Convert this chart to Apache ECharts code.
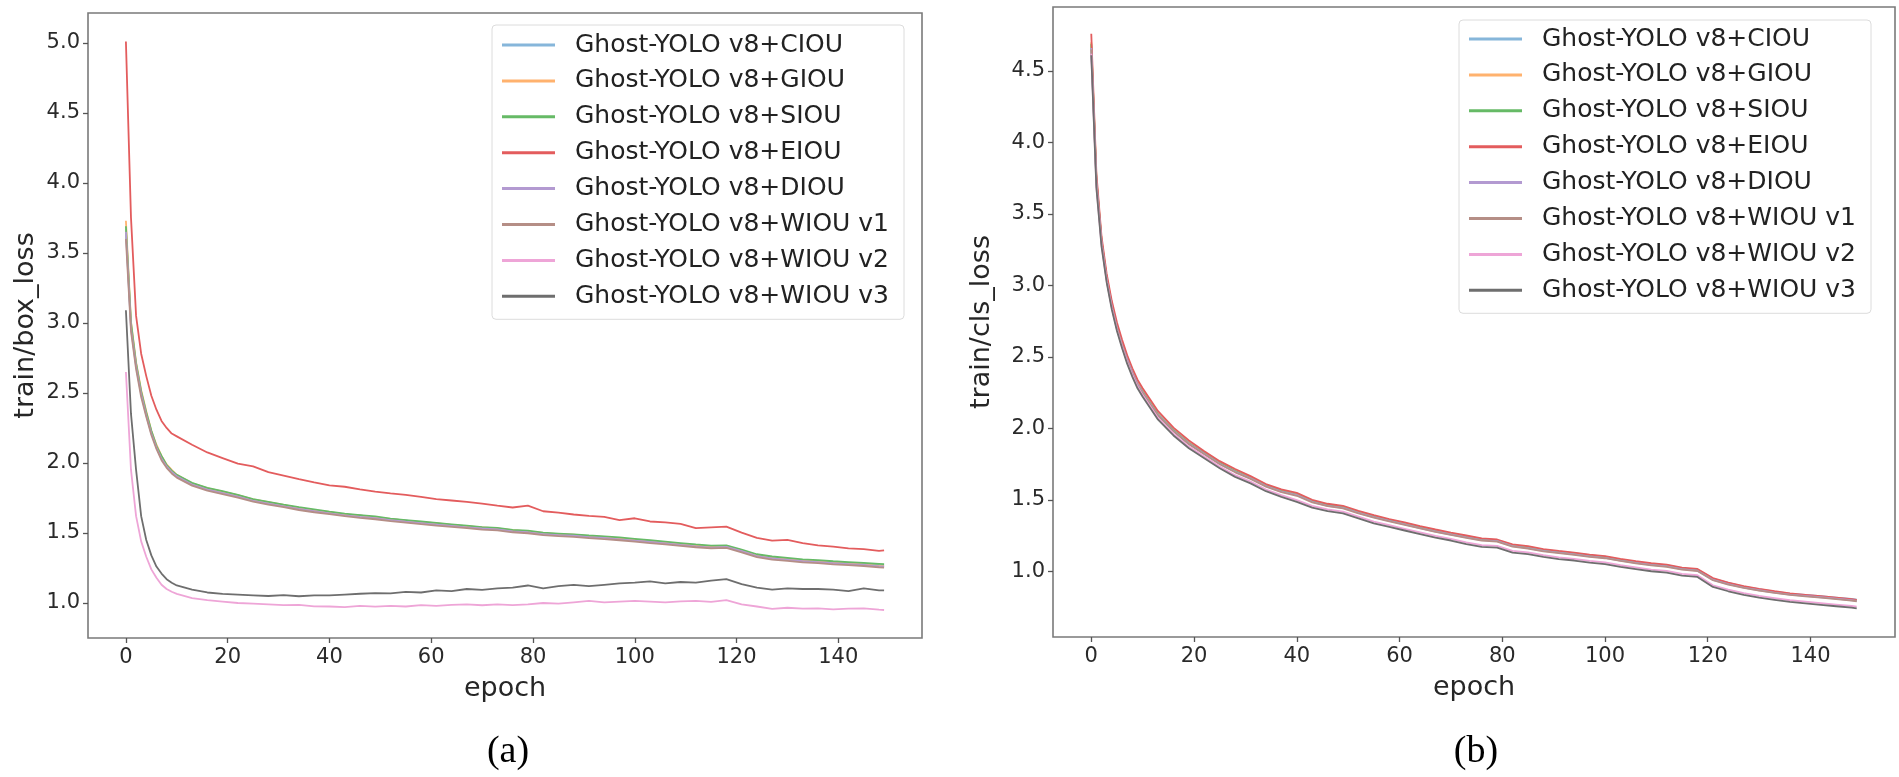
<!DOCTYPE html>
<html>
<head>
<meta charset="utf-8">
<script src="https://cdn.jsdelivr.net/npm/echarts@6/dist/echarts.min.js"></script>
<style>
html,body{margin:0;padding:0;background:#fff;}
#chart{width:1899px;height:777px;}
</style>
</head>
<body>
<div id="chart"></div>
<script>
// ---------- data ----------
const epochs = [0,1,2,3,4,5,6,7,8,9,10,
  13,16,19,22,25,28,31,34,37,40,
  43,46,49,52,55,58,61,64,67,70,
  73,76,79,82,85,88,91,94,97,100,
  103,106,109,112,115,118,121,124,127,130,
  133,136,139,142,145,148,149];

const seriesNames = ['Ghost-YOLO v8+CIOU','Ghost-YOLO v8+GIOU','Ghost-YOLO v8+SIOU','Ghost-YOLO v8+EIOU',
  'Ghost-YOLO v8+DIOU','Ghost-YOLO v8+WIOU v1','Ghost-YOLO v8+WIOU v2','Ghost-YOLO v8+WIOU v3'];

// (a) train/box_loss
const boxCIOU = [3.67,2.98,2.70,2.50,2.35,2.22,2.12,2.04,1.98,1.94,1.91,
  1.85,1.815,1.79,1.765,1.735,1.715,1.695,1.675,1.66,1.645,
  1.63,1.625,1.608,1.598,1.59,1.572,1.568,1.552,1.548,1.536,
  1.53,1.515,1.51,1.495,1.49,1.485,1.475,1.47,1.46,1.45,
  1.44,1.43,1.42,1.41,1.40,1.405,1.375,1.34,1.325,1.315,
  1.305,1.30,1.29,1.285,1.28,1.272,1.27];
const boxGIOU = [3.73,3.01,2.72,2.52,2.37,2.23,2.13,2.05,1.99,1.95,1.915,
  1.855,1.82,1.795,1.77,1.74,1.72,1.70,1.68,1.662,1.65,
  1.632,1.625,1.61,1.60,1.588,1.578,1.57,1.558,1.548,1.54,
  1.532,1.52,1.512,1.50,1.492,1.488,1.478,1.472,1.462,1.452,
  1.442,1.432,1.422,1.41,1.402,1.408,1.372,1.338,1.322,1.312,
  1.302,1.298,1.288,1.282,1.276,1.265,1.262];
const boxSIOU = [3.69,3.00,2.71,2.51,2.36,2.23,2.12,2.05,1.985,1.945,1.915,
  1.858,1.822,1.798,1.772,1.742,1.722,1.702,1.684,1.668,1.652,
  1.638,1.628,1.618,1.602,1.592,1.582,1.572,1.562,1.552,1.542,
  1.536,1.522,1.516,1.502,1.496,1.49,1.482,1.476,1.468,1.458,
  1.448,1.438,1.428,1.418,1.41,1.412,1.382,1.348,1.332,1.322,
  1.312,1.306,1.298,1.292,1.286,1.28,1.278];
const boxEIOU = [5.01,3.75,3.05,2.78,2.62,2.48,2.38,2.30,2.25,2.21,2.19,
  2.13,2.075,2.035,1.995,1.975,1.935,1.91,1.885,1.862,1.84,
  1.83,1.812,1.795,1.782,1.772,1.758,1.742,1.732,1.722,1.71,
  1.695,1.682,1.695,1.655,1.645,1.632,1.622,1.615,1.592,1.605,
  1.582,1.575,1.565,1.535,1.54,1.545,1.502,1.465,1.445,1.45,
  1.428,1.412,1.402,1.39,1.385,1.372,1.375];
const boxDIOU = [3.65,2.96,2.69,2.49,2.34,2.21,2.11,2.03,1.975,1.935,1.905,
  1.845,1.81,1.785,1.76,1.73,1.71,1.69,1.672,1.655,1.64,
  1.626,1.615,1.605,1.592,1.58,1.57,1.56,1.55,1.54,1.532,
  1.525,1.512,1.505,1.492,1.485,1.48,1.47,1.465,1.455,1.445,
  1.436,1.426,1.415,1.405,1.396,1.40,1.37,1.335,1.318,1.308,
  1.298,1.292,1.284,1.278,1.272,1.262,1.26];
const boxWIOU1 = [3.60,2.94,2.67,2.47,2.33,2.20,2.10,2.02,1.965,1.925,1.895,
  1.838,1.802,1.778,1.752,1.724,1.702,1.684,1.664,1.648,1.634,
  1.62,1.608,1.598,1.585,1.574,1.563,1.553,1.544,1.534,1.524,
  1.518,1.505,1.498,1.485,1.478,1.472,1.463,1.456,1.448,1.438,
  1.428,1.418,1.408,1.398,1.39,1.394,1.362,1.328,1.31,1.30,
  1.29,1.284,1.276,1.27,1.264,1.254,1.252];
const boxWIOU2 = [2.65,1.95,1.62,1.44,1.33,1.24,1.18,1.13,1.10,1.08,1.065,
  1.035,1.02,1.01,1.0,0.995,0.99,0.985,0.987,0.976,0.975,
  0.97,0.98,0.974,0.98,0.975,0.985,0.98,0.986,0.99,0.984,
  0.99,0.985,0.99,1.0,0.995,1.005,1.015,1.005,1.01,1.015,
  1.01,1.004,1.012,1.015,1.008,1.02,0.99,0.975,0.958,0.966,
  0.96,0.962,0.955,0.96,0.962,0.952,0.95];
const boxWIOU3 = [3.09,2.35,1.95,1.62,1.45,1.34,1.26,1.21,1.17,1.145,1.125,
  1.095,1.075,1.065,1.06,1.055,1.05,1.056,1.048,1.055,1.054,
  1.06,1.066,1.07,1.068,1.08,1.075,1.09,1.085,1.10,1.094,
  1.105,1.11,1.125,1.105,1.12,1.13,1.12,1.13,1.14,1.145,
  1.155,1.14,1.15,1.145,1.16,1.17,1.135,1.11,1.095,1.105,
  1.10,1.10,1.095,1.085,1.105,1.09,1.09];

// (b) train/cls_loss
const clsCIOU = [4.68,3.74,3.31,3.05,2.87,2.72,2.60,2.49,2.40,2.32,2.26,
  2.10,1.99,1.90,1.83,1.76,1.705,1.658,1.604,1.565,1.54,
  1.494,1.466,1.452,1.416,1.386,1.36,1.336,1.31,1.286,1.265,
  1.245,1.226,1.218,1.183,1.17,1.15,1.138,1.126,1.112,1.102,
  1.082,1.066,1.052,1.042,1.022,1.012,0.948,0.918,0.893,0.874,
  0.858,0.844,0.834,0.826,0.816,0.806,0.802];
const clsGIOU = [4.70,3.75,3.32,3.06,2.87,2.72,2.60,2.49,2.40,2.32,2.26,
  2.098,1.988,1.898,1.826,1.758,1.702,1.655,1.60,1.562,1.536,
  1.49,1.463,1.448,1.413,1.383,1.356,1.332,1.306,1.283,1.262,
  1.242,1.222,1.214,1.18,1.166,1.147,1.134,1.122,1.108,1.098,
  1.079,1.062,1.048,1.038,1.019,1.008,0.944,0.914,0.89,0.871,
  0.855,0.84,0.83,0.821,0.811,0.80,0.797];
const clsSIOU = [4.69,3.74,3.31,3.05,2.86,2.71,2.59,2.48,2.39,2.31,2.255,
  2.096,1.986,1.896,1.826,1.756,1.70,1.652,1.60,1.56,1.535,
  1.488,1.462,1.447,1.41,1.382,1.356,1.33,1.305,1.282,1.26,
  1.24,1.221,1.212,1.178,1.165,1.145,1.133,1.12,1.107,1.097,
  1.078,1.06,1.047,1.036,1.018,1.007,0.943,0.913,0.889,0.87,
  0.854,0.84,0.829,0.82,0.81,0.80,0.795];
const clsEIOU = [4.76,3.78,3.34,3.08,2.89,2.74,2.62,2.51,2.42,2.34,2.28,
  2.12,2.005,1.915,1.84,1.77,1.715,1.665,1.61,1.572,1.548,
  1.50,1.472,1.458,1.422,1.392,1.365,1.342,1.315,1.292,1.27,
  1.25,1.23,1.222,1.188,1.175,1.155,1.142,1.13,1.116,1.106,
  1.086,1.07,1.056,1.046,1.026,1.016,0.952,0.92,0.895,0.876,
  0.86,0.845,0.835,0.825,0.815,0.804,0.80];
const clsDIOU = [4.66,3.72,3.30,3.04,2.85,2.70,2.58,2.48,2.39,2.31,2.25,
  2.092,1.982,1.892,1.822,1.752,1.696,1.65,1.596,1.557,1.532,
  1.486,1.458,1.444,1.408,1.378,1.352,1.328,1.302,1.278,1.257,
  1.237,1.218,1.21,1.175,1.162,1.142,1.13,1.118,1.104,1.094,
  1.075,1.058,1.044,1.034,1.015,1.004,0.94,0.91,0.886,0.867,
  0.851,0.837,0.827,0.818,0.808,0.797,0.792];
const clsWIOU1 = [4.65,3.72,3.30,3.04,2.85,2.70,2.58,2.47,2.38,2.30,2.245,
  2.088,1.978,1.888,1.818,1.748,1.692,1.646,1.592,1.553,1.528,
  1.482,1.455,1.44,1.405,1.375,1.348,1.325,1.30,1.275,1.254,
  1.234,1.215,1.207,1.172,1.159,1.139,1.127,1.115,1.101,1.091,
  1.072,1.055,1.041,1.031,1.012,1.001,0.937,0.907,0.883,0.864,
  0.848,0.834,0.824,0.815,0.805,0.794,0.79];
const clsWIOU2 = [4.62,3.69,3.28,3.03,2.84,2.69,2.57,2.46,2.372,2.292,2.232,
  2.072,1.962,1.872,1.802,1.732,1.672,1.627,1.572,1.532,1.497,
  1.457,1.432,1.417,1.382,1.347,1.322,1.297,1.272,1.247,1.227,
  1.202,1.182,1.177,1.142,1.132,1.112,1.097,1.087,1.072,1.062,
  1.042,1.027,1.012,1.002,0.982,0.972,0.902,0.872,0.847,0.827,
  0.812,0.797,0.787,0.777,0.767,0.757,0.752];
const clsWIOU3 = [4.61,3.68,3.27,3.02,2.83,2.68,2.56,2.45,2.36,2.28,2.22,
  2.06,1.95,1.86,1.79,1.72,1.66,1.615,1.56,1.52,1.485,
  1.445,1.42,1.405,1.37,1.335,1.31,1.285,1.26,1.235,1.215,
  1.19,1.17,1.165,1.13,1.12,1.10,1.085,1.075,1.06,1.05,
  1.03,1.015,1.0,0.99,0.97,0.96,0.89,0.86,0.835,0.815,
  0.80,0.785,0.775,0.765,0.755,0.745,0.74];

const xTicks = [0,20,40,60,80,100,120,140];
const yTicksBox = [1.0,1.5,2.0,2.5,3.0,3.5,4.0,4.5,5.0];
const yTicksCls = [1.0,1.5,2.0,2.5,3.0,3.5,4.0,4.5];

const boxSeries = [boxCIOU,boxGIOU,boxSIOU,boxEIOU,boxDIOU,boxWIOU1,boxWIOU2,boxWIOU3];
const clsSeries = [clsCIOU,clsGIOU,clsSIOU,clsEIOU,clsDIOU,clsWIOU1,clsWIOU2,clsWIOU3];

// ---------- styling ----------
const colors = ['#86b6da','#ffb26e','#66ba66','#e35c5d','#b39ad1','#b58e86','#eea5d7','#6e6e6e'];
const FONT = 'DejaVu Sans';

function xAxisCfg(gridIndex){
  return {
    type:'value', gridIndex, min:-7.45, max:156.45,
    name:'epoch', nameLocation:'middle', nameGap:37,
    nameTextStyle:{fontFamily:FONT, fontSize:27, color:'#262626'},
    axisLine:{show:false, onZero:false},
    splitLine:{show:false},
    axisTick:{show:true, inside:false, length:5, customValues:xTicks, lineStyle:{color:'#555', width:1.3}},
    axisLabel:{customValues:xTicks, margin:9, fontFamily:FONT, fontSize:21, color:'#2a2a2a',
      formatter:v=>String(Math.round(v))}
  };
}
function yAxisCfg(gridIndex, min, max, ticks, name, gap){
  return {
    type:'value', gridIndex, min, max, position:'left',
    name, nameLocation:'middle', nameGap:gap, nameRotate:90,
    nameTextStyle:{fontFamily:FONT, fontSize:27, color:'#262626'},
    axisLine:{show:false, onZero:false},
    splitLine:{show:false},
    axisTick:{show:true, inside:false, length:5, customValues:ticks, lineStyle:{color:'#555', width:1.3}},
    axisLabel:{customValues:ticks, margin:8, fontFamily:FONT, fontSize:21, color:'#2a2a2a',
      formatter:v=>v.toFixed(1)}
  };
}
function legendCfg(left, top, padding){
  return {
    orient:'vertical', left, top, padding,
    icon:'rect', itemWidth:53, itemHeight:3, itemGap:9.9,
    backgroundColor:'rgba(255,255,255,0.85)', borderColor:'#dcdcdc', borderWidth:1, borderRadius:4,
    textStyle:{fontFamily:FONT, fontSize:25, color:'#222', lineHeight:26, padding:[0,0,0,15]},
    data:seriesNames
  };
}

const series = [];
seriesNames.forEach((name,i)=>{
  series.push({
    name, type:'line', xAxisIndex:0, yAxisIndex:0,
    data: epochs.map((e,j)=>[e, boxSeries[i][j]]),
    symbol:'none', showSymbol:false, color:colors[i],
    lineStyle:{width:1.8, color:colors[i]}, z:2+i*0.01
  });
});
seriesNames.forEach((name,i)=>{
  series.push({
    name, type:'line', xAxisIndex:1, yAxisIndex:1,
    data: epochs.map((e,j)=>[e, clsSeries[i][j]]),
    symbol:'none', showSymbol:false, color:colors[i],
    lineStyle:{width:1.8, color:colors[i]}, z:2+i*0.01
  });
});

const option = {
  animation:false,
  backgroundColor:'#ffffff',
  color:colors,
  grid:[
    {left:88, top:13, width:834, height:625, show:true, borderColor:'#7a7a7a', borderWidth:1.6, backgroundColor:'transparent'},
    {left:1053, top:7, width:842, height:630, show:true, borderColor:'#7a7a7a', borderWidth:1.6, backgroundColor:'transparent'}
  ],
  xAxis:[xAxisCfg(0), xAxisCfg(1)],
  yAxis:[
    yAxisCfg(0, 0.75, 5.213, yTicksBox, 'train/box_loss', 49),
    yAxisCfg(1, 0.54, 4.947, yTicksCls, 'train/cls_loss', 58)
  ],
  legend:[
    legendCfg(492, 25, [7,15,10,10]),
    legendCfg(1459, 20, [6,15,10,10])
  ],
  graphic:[
    {type:'text', x:508, y:752, style:{text:'(a)', font:'38px "Liberation Serif"', fill:'#000', align:'center', verticalAlign:'middle'}},
    {type:'text', x:1476, y:752, style:{text:'(b)', font:'38px "Liberation Serif"', fill:'#000', align:'center', verticalAlign:'middle'}}
  ],
  series
};

const chart = echarts.init(document.getElementById('chart'), null, {renderer:'canvas'});
chart.setOption(option);
</script>
</body>
</html>
